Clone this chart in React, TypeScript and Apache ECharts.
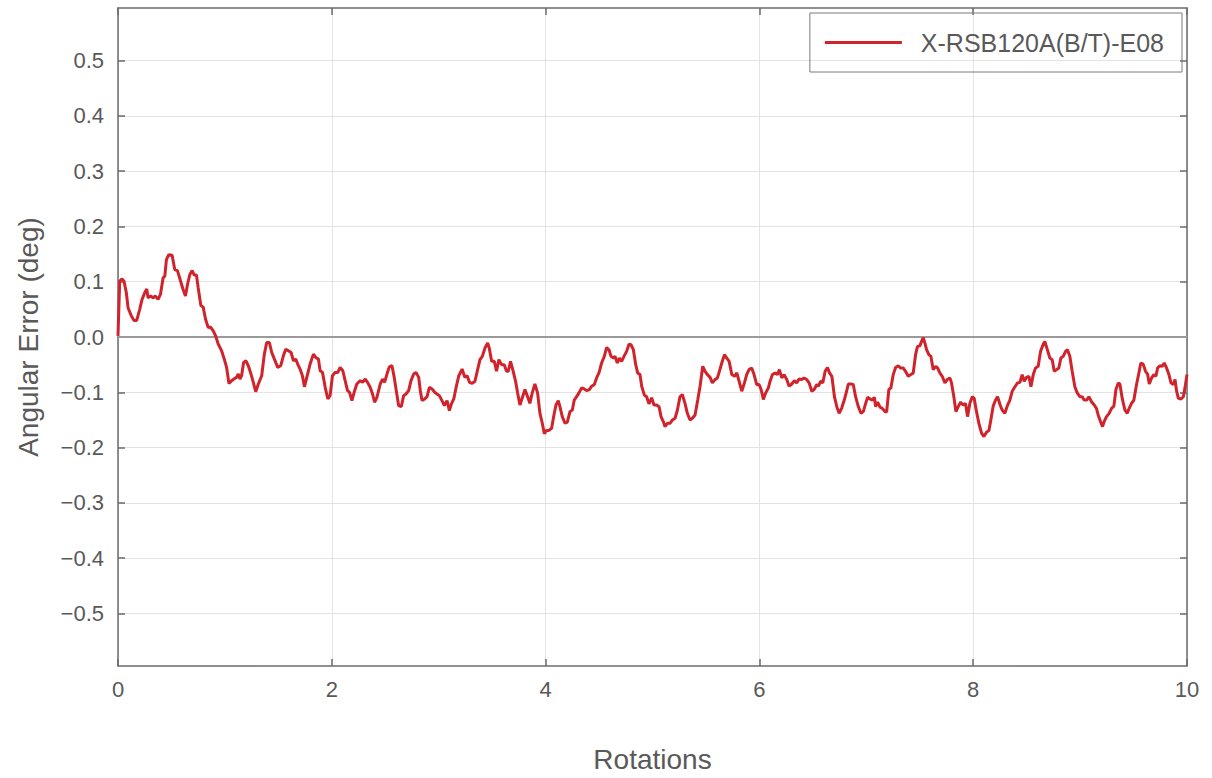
import React, { useEffect, useRef } from "react";
import * as echarts from "echarts";

const seriesName = "X-RSB120A(B/T)-E08";
const xTitle = "Rotations";
const yTitle = "Angular Error (deg)";
const yTickValues = [-0.5, -0.4, -0.3, -0.2, -0.1, 0, 0.1, 0.2, 0.3, 0.4, 0.5];

const rotations = [
  0, 0.016, 0.038, 0.056, 0.078, 0.094, 0.125, 0.15, 0.175, 0.203, 0.225, 0.25, 0.269, 0.281, 0.306, 0.328, 0.35, 0.375, 0.397, 0.422,
  0.438, 0.453, 0.475, 0.506, 0.531, 0.556, 0.581, 0.609, 0.631, 0.65, 0.672, 0.694, 0.713, 0.734, 0.75, 0.775, 0.797, 0.819, 0.844, 0.866,
  0.891, 0.913, 0.938, 0.969, 0.994, 1.016, 1.038, 1.063, 1.084, 1.109, 1.125, 1.141, 1.156, 1.175, 1.197, 1.219, 1.244, 1.266, 1.288, 1.313,
  1.344, 1.369, 1.391, 1.416, 1.438, 1.463, 1.494, 1.522, 1.547, 1.569, 1.594, 1.619, 1.641, 1.663, 1.681, 1.703, 1.725, 1.744, 1.766, 1.797,
  1.828, 1.85, 1.875, 1.891, 1.913, 1.938, 1.963, 1.984, 2.006, 2.031, 2.056, 2.078, 2.103, 2.125, 2.147, 2.166, 2.188, 2.209, 2.234, 2.266,
  2.288, 2.313, 2.334, 2.359, 2.381, 2.4, 2.422, 2.453, 2.475, 2.494, 2.516, 2.538, 2.563, 2.584, 2.603, 2.625, 2.65, 2.672, 2.694, 2.719,
  2.741, 2.766, 2.788, 2.813, 2.828, 2.844, 2.869, 2.891, 2.913, 2.938, 2.963, 2.984, 3.006, 3.031, 3.053, 3.078, 3.1, 3.119, 3.141, 3.163,
  3.188, 3.219, 3.244, 3.266, 3.288, 3.313,
  3.339, 3.364, 3.386, 3.408, 3.433, 3.458, 3.473, 3.495, 3.52, 3.541, 3.563, 3.588, 3.613, 3.635, 3.651, 3.672, 3.697, 3.719, 3.738, 3.76,
  3.785, 3.807, 3.832, 3.853, 3.875, 3.9, 3.925, 3.947, 3.969, 3.988, 4.009, 4.031, 4.056, 4.078, 4.097, 4.119, 4.134, 4.156, 4.181, 4.203,
  4.228, 4.25, 4.268, 4.29, 4.312, 4.337, 4.362, 4.384, 4.409, 4.431, 4.456, 4.477, 4.499, 4.524, 4.549, 4.571, 4.593, 4.612, 4.634, 4.649,
  4.671, 4.69, 4.711, 4.733, 4.758, 4.78, 4.799, 4.821, 4.843, 4.861, 4.883, 4.899, 4.924, 4.945, 4.967, 4.992, 5.014, 5.039, 5.061, 5.08,
  5.101, 5.117, 5.139, 5.164, 5.186, 5.211, 5.233, 5.257, 5.279, 5.304, 5.326, 5.351, 5.373, 5.398, 5.423, 5.445, 5.47, 5.492, 5.514, 5.539,
  5.56, 5.585, 5.607, 5.626, 5.648, 5.673, 5.695, 5.717, 5.742, 5.767, 5.789, 5.81, 5.835, 5.86, 5.881, 5.903, 5.928, 5.95, 5.975, 5.997,
  6.016, 6.037, 6.059, 6.084, 6.1, 6.122, 6.147, 6.168, 6.187, 6.209, 6.231, 6.256, 6.278, 6.303, 6.327, 6.349, 6.371, 6.396, 6.418, 6.443,
  6.465, 6.49, 6.512, 6.537, 6.552, 6.574, 6.593, 6.615, 6.637, 6.656, 6.678, 6.702, 6.724, 6.746,
  6.769, 6.794, 6.816, 6.832, 6.856, 6.878, 6.9, 6.925, 6.95, 6.972, 6.994, 7.013, 7.034, 7.056, 7.075, 7.087, 7.106, 7.128, 7.15, 7.175,
  7.19, 7.211, 7.23, 7.252, 7.274, 7.299, 7.32, 7.345, 7.367, 7.392, 7.417, 7.439, 7.461, 7.479, 7.501, 7.517, 7.533, 7.548, 7.564, 7.585,
  7.604, 7.626, 7.648, 7.667, 7.688, 7.71, 7.735, 7.757, 7.782, 7.797, 7.819, 7.838, 7.86, 7.882, 7.906, 7.928, 7.947, 7.969, 7.991, 8.009,
  8.031, 8.053, 8.078, 8.1, 8.125, 8.147, 8.165, 8.187, 8.209, 8.228, 8.252, 8.271, 8.296, 8.318, 8.343, 8.365, 8.39, 8.415, 8.437, 8.458,
  8.477, 8.499, 8.521, 8.54, 8.562, 8.583, 8.608, 8.63, 8.655, 8.67, 8.692, 8.717, 8.739, 8.758, 8.78, 8.801, 8.82, 8.842, 8.864, 8.882,
  8.904, 8.926, 8.951, 8.973, 8.998, 9.02, 9.038, 9.061, 9.082, 9.107, 9.132, 9.153, 9.169, 9.191, 9.21, 9.225, 9.247, 9.269, 9.294, 9.316,
  9.335, 9.357, 9.372, 9.394, 9.419, 9.441, 9.459, 9.481, 9.503, 9.528, 9.55, 9.568, 9.59, 9.612, 9.631, 9.647, 9.669, 9.69, 9.709, 9.725,
  9.747, 9.769, 9.787, 9.809, 9.831, 9.85, 9.872, 9.888, 9.903, 9.919, 9.944, 9.966, 9.981, 10.0,
];

const angularError = [
  0.002, 0.101, 0.105, 0.101, 0.08, 0.053, 0.038, 0.03, 0.03, 0.05, 0.068, 0.08, 0.087, 0.071, 0.074, 0.071, 0.074, 0.068, 0.077, 0.107,
  0.11, 0.14, 0.149, 0.148, 0.122, 0.12, 0.104, 0.086, 0.074, 0.095, 0.113, 0.12, 0.112, 0.112, 0.089, 0.057, 0.054, 0.032, 0.017, 0.018,
  0.011, 0.002, -0.013, -0.025, -0.04, -0.055, -0.084, -0.079, -0.076, -0.073, -0.067, -0.076, -0.07, -0.046, -0.043, -0.052, -0.067, -0.082, -0.099, -0.085,
  -0.07, -0.031, -0.01, -0.01, -0.028, -0.04, -0.055, -0.052, -0.034, -0.022, -0.025, -0.028, -0.043, -0.04, -0.049, -0.058, -0.07, -0.09, -0.073, -0.049,
  -0.031, -0.037, -0.04, -0.061, -0.064, -0.091, -0.112, -0.106, -0.07, -0.064, -0.064, -0.055, -0.061, -0.079, -0.097, -0.1, -0.115, -0.1, -0.085, -0.079,
  -0.082, -0.076, -0.082, -0.091, -0.103, -0.118, -0.109, -0.085, -0.076, -0.082, -0.067, -0.054, -0.052, -0.073, -0.097, -0.124, -0.126, -0.106, -0.103, -0.097,
  -0.079, -0.067, -0.064, -0.073, -0.097, -0.115, -0.112, -0.108, -0.091, -0.094, -0.1, -0.103, -0.106, -0.115, -0.124, -0.115, -0.133, -0.121, -0.112, -0.091,
  -0.07, -0.058, -0.073, -0.07, -0.082, -0.084,
  -0.08, -0.059, -0.041, -0.035, -0.02, -0.011, -0.02, -0.044, -0.044, -0.062, -0.041, -0.05, -0.05, -0.062, -0.062, -0.044, -0.062, -0.08, -0.101, -0.123,
  -0.108, -0.095, -0.108, -0.12, -0.101, -0.085, -0.101, -0.138, -0.156, -0.175, -0.169, -0.169, -0.165, -0.141, -0.123, -0.115, -0.126, -0.144, -0.156, -0.154,
  -0.135, -0.132, -0.114, -0.108, -0.101, -0.092, -0.094, -0.097, -0.095, -0.089, -0.086, -0.074, -0.065, -0.047, -0.035, -0.019, -0.023, -0.035, -0.038, -0.035,
  -0.047, -0.038, -0.044, -0.035, -0.026, -0.013, -0.014, -0.023, -0.05, -0.065, -0.068, -0.089, -0.105, -0.108, -0.121, -0.11, -0.123, -0.123, -0.126, -0.144,
  -0.153, -0.162, -0.156, -0.156, -0.15, -0.147, -0.132, -0.108, -0.104, -0.12, -0.138, -0.15, -0.147, -0.141, -0.114, -0.089, -0.053, -0.062, -0.068, -0.073,
  -0.083, -0.077, -0.074, -0.062, -0.047, -0.032, -0.038, -0.044, -0.068, -0.071, -0.065, -0.08, -0.098, -0.083, -0.068, -0.059, -0.056, -0.068, -0.086, -0.086,
  -0.095, -0.113, -0.101, -0.092, -0.08, -0.068, -0.065, -0.068, -0.059, -0.074, -0.068, -0.077, -0.089, -0.085, -0.079, -0.083, -0.076, -0.077, -0.074, -0.077,
  -0.083, -0.098, -0.095, -0.086, -0.089, -0.08, -0.083, -0.062, -0.055, -0.065, -0.071, -0.108, -0.126, -0.138,
  -0.129, -0.114, -0.098, -0.085, -0.085, -0.086, -0.108, -0.126, -0.138, -0.135, -0.12, -0.109, -0.112, -0.114, -0.109, -0.126, -0.118, -0.127, -0.129, -0.135,
  -0.136, -0.095, -0.092, -0.068, -0.055, -0.052, -0.056, -0.056, -0.062, -0.071, -0.068, -0.065, -0.032, -0.017, -0.016, -0.008, -0.001, -0.011, -0.023, -0.032,
  -0.035, -0.059, -0.053, -0.056, -0.065, -0.071, -0.083, -0.077, -0.074, -0.083, -0.108, -0.135, -0.126, -0.118, -0.123, -0.12, -0.144, -0.12, -0.108, -0.111,
  -0.135, -0.156, -0.174, -0.18, -0.172, -0.169, -0.15, -0.125, -0.114, -0.108, -0.123, -0.132, -0.138, -0.125, -0.114, -0.098, -0.09, -0.083, -0.082, -0.068,
  -0.08, -0.073, -0.071, -0.09, -0.068, -0.056, -0.053, -0.026, -0.013, -0.008, -0.022, -0.038, -0.041, -0.062, -0.059, -0.056, -0.038, -0.035, -0.026, -0.023,
  -0.035, -0.062, -0.09, -0.101, -0.108, -0.108, -0.114, -0.114, -0.108, -0.117, -0.123, -0.129, -0.141, -0.153, -0.162, -0.153, -0.144, -0.139, -0.129, -0.125,
  -0.095, -0.083, -0.085, -0.111, -0.132, -0.138, -0.129, -0.12, -0.114, -0.086, -0.065, -0.047, -0.049, -0.062, -0.067, -0.085, -0.074, -0.068, -0.071, -0.056,
  -0.052, -0.053, -0.047, -0.056, -0.068, -0.083, -0.086, -0.077, -0.098, -0.111, -0.112, -0.108, -0.092, -0.068,
];

const fmtY = (v: number) => {
  const s = Math.abs(v) < 1e-9 ? "0.0" : v.toFixed(1);
  return s.replace("-", "\u2212");
};

export default function App() {
  const ref = useRef<HTMLDivElement>(null);
  useEffect(() => {
    if (!ref.current) return;
    const chart = echarts.init(ref.current, null, { renderer: "svg" });
    const data = rotations.map((x, i) => [x, angularError[i]]);
    const font = "Liberation Sans, Arial, Helvetica, sans-serif";
    const frameColor = "#6b6b6b";
    const labelColor = "#595959";
    const gridColor = "#e3e3e3";
    const yCommon = {
      type: "value" as const,
      min: -0.595,
      max: 0.595,
      axisLine: { show: true, onZero: false, lineStyle: { color: frameColor, width: 1.5 } },
      axisTick: { show: true, inside: true, length: 7, customValues: yTickValues, lineStyle: { color: frameColor, width: 1.5 } },
    };
    const xCommon = {
      type: "value" as const,
      min: 0,
      max: 10,
      interval: 2,
      axisLine: { show: true, onZero: false, lineStyle: { color: frameColor, width: 1.5 } },
      axisTick: { show: true, inside: true, length: 7, lineStyle: { color: frameColor, width: 1.5 } },
    };
    chart.setOption({
      animation: false,
      backgroundColor: "#ffffff",
      grid: { left: 118, top: 8, right: 25, bottom: 110, containLabel: false },
      legend: {
        show: true,
        data: [seriesName],
        right: 30,
        top: 13,
        orient: "horizontal",
        borderColor: "#7a7a7a",
        borderWidth: 1,
        padding: [17, 18, 17, 15],
        itemWidth: 77,
        itemHeight: 3,
        icon: "rect",
        textStyle: { fontFamily: font, fontSize: 25, color: labelColor, padding: [0, 0, 0, 14] },
      },
      xAxis: [
        {
          ...xCommon,
          position: "bottom",
          name: xTitle,
          nameLocation: "middle",
          nameGap: 79,
          nameTextStyle: { fontFamily: font, fontSize: 28, color: labelColor },
          axisLabel: { show: true, margin: 12, fontFamily: font, fontSize: 22, color: labelColor },
          splitLine: { show: true, lineStyle: { color: gridColor, width: 1 } },
        },
        {
          ...xCommon,
          position: "top",
          axisLabel: { show: false },
          splitLine: { show: false },
        },
      ],
      yAxis: [
        {
          ...yCommon,
          position: "left",
          name: yTitle,
          nameLocation: "middle",
          nameGap: 76,
          nameRotate: 90,
          nameTextStyle: { fontFamily: font, fontSize: 28, color: labelColor },
          axisLabel: { show: true, margin: 14, customValues: yTickValues, formatter: fmtY, fontFamily: font, fontSize: 22, color: labelColor },
          splitLine: { show: true, lineStyle: { color: gridColor, width: 1 } },
        },
        {
          ...yCommon,
          position: "right",
          axisLabel: { show: false },
          splitLine: { show: false },
        },
      ],
      series: [
        {
          name: seriesName,
          type: "line",
          xAxisIndex: 0,
          yAxisIndex: 0,
          data,
          showSymbol: false,
          symbol: "none",
          smooth: false,
          color: "#d0232b",
          lineStyle: { color: "#d0232b", width: 3 },
          markLine: {
            silent: true,
            symbol: "none",
            label: { show: false },
            lineStyle: { color: "#9a9a9a", width: 2, type: "solid" },
            data: [{ yAxis: 0 }],
            z: 1,
          },
        },
      ],
    });
    return () => chart.dispose();
  }, []);
  return (
    <div
      ref={ref}
      style={{ position: "fixed", left: 0, top: 0, width: 1212, height: 778, background: "#fff" }}
    />
  );
}
